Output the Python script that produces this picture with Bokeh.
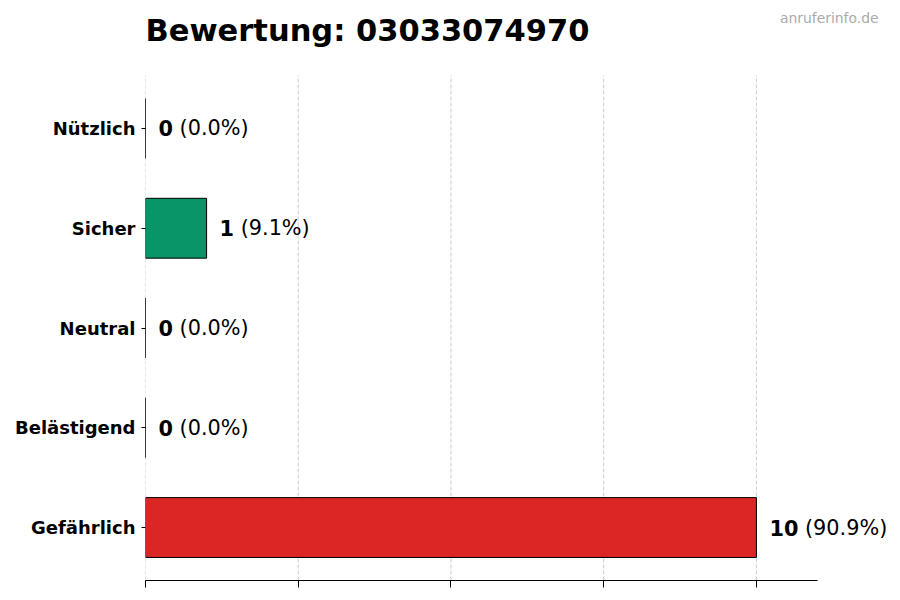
from bokeh.plotting import figure
from bokeh.models import Range1d, FixedTicker, ColumnDataSource, Label, LabelSet
from bokeh.embed import file_html
from bokeh.resources import INLINE
from bokeh.core.properties import value

categories = ["Nützlich", "Sicher", "Neutral", "Belästigend", "Gefährlich"]
counts = [0, 1, 0, 0, 10]
colors = ["#1f77b4", "#0a9568", "#9ca3af", "#f59e0b", "#dc2626"]
x_ticks = [0, 2.5, 5, 7.5, 10]
x_max = 11
title_text = "Bewertung: 03033074970"
watermark = "anruferinfo.de"

# layout (pixels)
W, H = 900, 600
frame_left, frame_right_axis = 145, 817
plot_top, plot_bottom = 75, 580

n = len(categories)
ypos = [n - 1 - i for i in range(n)]          # first category on top
pad = 0.531                                    # category padding (units)
unit_px = (plot_bottom - plot_top) / (n - 1 + 2 * pad)
y_lo = -pad
y_plot_hi = n - 1 + pad
y_hi = y_plot_hi + plot_top / unit_px          # room for title above plot area
x_hi = x_max * (W - frame_left) / (frame_right_axis - frame_left)

total = sum(counts)
num_font = 20.8
num_labels = [str(c) for c in counts]
pct_labels = ["(%.1f%%)" % (100.0 * c / total) for c in counts]
num_offsets = [13] * n
pct_offsets = [13 + len(s) * 0.696 * num_font + 0.318 * num_font for s in num_labels]

src = ColumnDataSource(dict(y=ypos, cnt=counts, col=colors,
                            num=num_labels, pct=pct_labels,
                            noff=num_offsets, poff=pct_offsets))

p = figure(width=W, height=H, x_range=Range1d(0, x_hi), y_range=Range1d(y_lo, y_hi),
           output_backend="svg", toolbar_location=None,
           min_border_left=frame_left, min_border_right=0, min_border_top=0,
           min_border_bottom=H - plot_bottom)
p.outline_line_color = None
p.background_fill_color = "white"
p.border_fill_color = "white"
p.xgrid.grid_line_color = None
p.ygrid.grid_line_color = None

# grid lines limited to the plot area
gsrc = ColumnDataSource(dict(x=x_ticks, y0=[y_lo] * len(x_ticks), y1=[y_plot_hi] * len(x_ticks)))
p.segment(x0="x", x1="x", y0="y0", y1="y1", source=gsrc,
          line_color="#cccccc", line_width=1, line_dash="4 2")

p.hbar(y="y", right="cnt", left=0, height=0.6, source=src,
       fill_color="col", line_color="black", line_width=1)

num_set = LabelSet(x="cnt", y="y", text="num", source=src, x_offset="noff",
                   text_font=value("DejaVu Sans"), text_font_style="bold",
                   text_font_size="20.8px", text_baseline="middle", text_align="left",
                   text_color="black")
pct_set = LabelSet(x="cnt", y="y", text="pct", source=src, x_offset="poff",
                   text_font=value("DejaVu Sans"), text_font_style="normal",
                   text_font_size="20.8px", text_baseline="middle", text_align="left",
                   text_color="black")
p.add_layout(num_set)
p.add_layout(pct_set)

# x axis
xa = p.xaxis[0]
xa.ticker = FixedTicker(ticks=x_ticks)
xa.bounds = (0, x_max)
xa.major_label_overrides = {t: "" for t in x_ticks}
xa.major_label_standoff = 0
xa.major_tick_out = 7
xa.major_tick_in = 0
xa.minor_tick_out = 0
xa.minor_tick_in = 0
xa.axis_line_color = "black"
xa.major_tick_line_color = "black"

# y axis
ya = p.yaxis[0]
ya.ticker = FixedTicker(ticks=ypos)
ya.major_label_overrides = {y: c for y, c in zip(ypos, categories)}
ya.axis_line_color = None
ya.minor_tick_out = 0
ya.minor_tick_in = 0
ya.major_tick_out = 4
ya.major_tick_in = 0
ya.major_label_standoff = 6
ya.major_label_text_font = "DejaVu Sans"
ya.major_label_text_font_style = "bold"
ya.major_label_text_font_size = "18px"
ya.major_label_text_color = "black"

title = Label(x=0, y=plot_bottom - 30, x_units="screen", y_units="screen", text=title_text,
              text_font="DejaVu Sans", text_font_style="bold", text_font_size="30.5px",
              text_color="black", text_align="left", text_baseline="middle")
p.add_layout(title)

wm = Label(x=878 - frame_left, y=plot_bottom - 17, x_units="screen", y_units="screen",
           text=watermark, text_font="DejaVu Sans", text_font_size="13.9px",
           text_color="#aaaaaa", text_align="right", text_baseline="middle")
p.add_layout(wm)

open("out.html", "w").write(file_html(p, INLINE))
